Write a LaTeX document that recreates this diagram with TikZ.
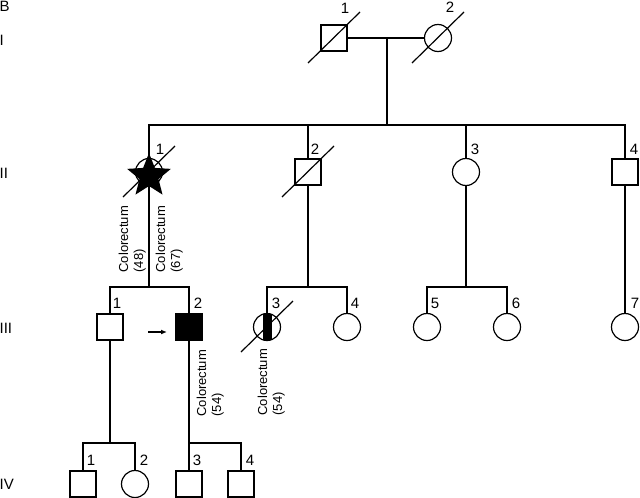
\documentclass[tikz,border=0pt]{standalone}
\usepackage{fontspec}
\setmainfont{Liberation Sans}
\usetikzlibrary{arrows.meta,calc,shapes.geometric}
\newcommand{\numfont}{\fontsize{15}{15}\selectfont}
\newcommand{\notefont}{\fontsize{13}{15}\selectfont}
\tikzset{
  male/.style={draw,rectangle,minimum size=26pt,inner sep=0pt},
  female/.style={draw,circle,minimum size=27pt,inner sep=0pt},
  num/.style={font=\numfont,inner sep=0pt},
  gen/.style={font=\numfont,inner sep=0pt,anchor=west},
  note/.style={font=\notefont,rotate=90,align=left,anchor=north west,inner sep=0pt},
  slash/.style={line width=1.2pt,line cap=butt},
}
\begin{document}
\begin{tikzpicture}[x=1pt,y=-1pt,line width=1.2pt]
  \useasboundingbox (0,0) rectangle (640,498);
  %% generation labels
  \node[gen] (gB) at (-1,6) {B};
  \node[gen] (gI) at (-1,40) {I};
  \node[gen] (gII) at (-1,173) {II};
  \node[gen] (gIII) at (-1,328) {III};
  \node[gen] (gIV) at (-1,484) {IV};
  %% generation I
  \node[male] (I1) at (334,38) {};
  \node[female] (I2) at (438,38) {};
  \node[num] at (345,8) {1};
  \node[num] at (450,7) {2};
  \coordinate (s2) at (387,125);
  \draw (I1.east) -- (I2.west);
  \draw (I1.east -| s2) -- (s2);
  %% generation II
  \node[female] (II1) at (149,172) {};
  \node[star,star points=5,star point ratio=2.3,minimum size=46pt,inner sep=0pt,fill=black] (II1s) at (149,176) {};
  \node[male] (II2) at (308,172) {};
  \node[female] (II3) at (466,172) {};
  \node[male] (II4) at (625,172) {};
  \foreach \x/\n in {160/1, 315/2, 475/3, 634/4}{
    \node[num] at (\x,149) {\n};
  }
  \draw (II1.north) |- (s2) -| (II4.north);
  \draw (s2) -| (II2.north);
  \draw (s2) -| (II3.north);
  \node[note] (n48) at (118,273) {Colorectum\\(48)};
  \node[note] (n67) at (155,273) {Colorectum\\(67)};
  %% generation III
  \node[male] (III1) at (110,327) {};
  \node[male,fill=black] (III2) at (189,327) {};
  \node[female] (III3) at (267,327) {};
  \begin{scope}
    \clip (III3) circle [radius=13.5pt];
    \fill (262.5,300) rectangle (271.5,355);
  \end{scope}
  \node[female] (III4) at (347,327) {};
  \node[female] (III5) at (427,327) {};
  \node[female] (III6) at (507,327) {};
  \node[female] (III7) at (625,327) {};
  \foreach \x/\n in {117/1, 198/2, 276/3, 355/4, 435/5, 516/6, 635/7}{
    \node[num] at (\x,303) {\n};
  }
  \coordinate (s3a) at (149,287);
  \coordinate (s3b) at (308,287);
  \coordinate (s3c) at (466,287);
  \draw (II1.south) -- (s3a);
  \draw (III1.north) |- (s3a) -| (III2.north);
  \draw (II2.south) -- (s3b);
  \draw (III3.north) |- (s3b) -| (III4.north);
  \draw (II3.south) -- (s3c);
  \draw (III5.north) |- (s3c) -| (III6.north);
  \draw (II4.south) -- (III7.north);
  \coordinate (ptail) at (148,332);
  \coordinate (ptip) at (167,332);
  \draw[-{Latex[length=6pt,width=5pt]},line width=1.5pt] (ptail) -- (ptip);
  \node[note] (n54a) at (196,417) {Colorectum\\(54)};
  \node[note] (n54b) at (257,416) {Colorectum\\(54)};
  %% generation IV
  \node[male] (IV1) at (83,484) {};
  \node[female] (IV2) at (135,484) {};
  \node[male] (IV3) at (189,484) {};
  \node[male] (IV4) at (241,484) {};
  \foreach \x/\n in {91/1, 144/2, 197/3, 250/4}{
    \node[num] at (\x,460) {\n};
  }
  \coordinate (s4a) at (110,443);
  \coordinate (s4b) at (189,443);
  \draw (III1.south) -- (s4a);
  \draw (IV1.north) |- (s4a) -| (IV2.north);
  \draw (III2.south) -- (s4b);
  \draw (IV3.north) |- (s4b) -| (IV4.north);
  %% deceased
  \foreach \n in {I1,I2,II1,II2,III3}{
    \draw[slash] ($(\n)+(-26,25)$) -- ($(\n)+(26,-26)$);
  }
\end{tikzpicture}
\end{document}
